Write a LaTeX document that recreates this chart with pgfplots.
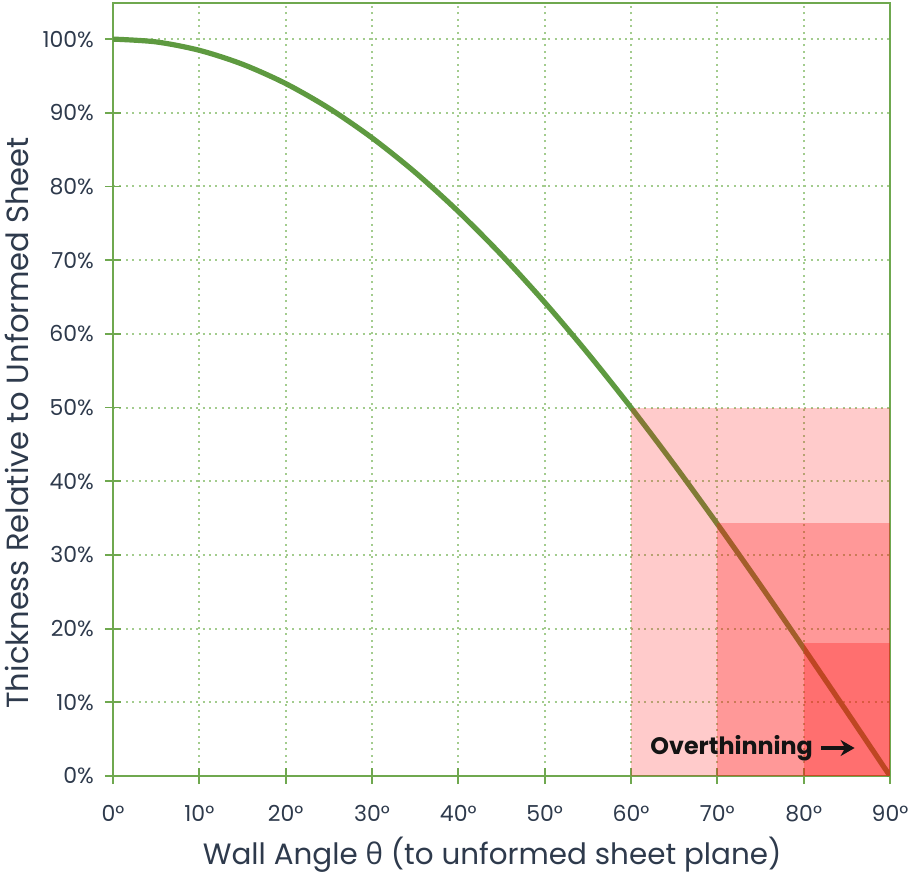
\documentclass[border=0pt]{standalone}
\usepackage{pgfplots}
\pgfplotsset{compat=1.18}
\usepackage{fontspec}
\setmainfont{Poppins}
\newfontfamily\gfont{Open Sans}
\usetikzlibrary{arrows.meta}
\definecolor{axgreen}{HTML}{6FA84F}
\definecolor{gridgreen}{HTML}{A3CC8E}
\definecolor{curvegreen}{HTML}{5E9A40}
\definecolor{txt}{HTML}{2E3A4C}
\definecolor{ovr}{HTML}{FF1010}
\begin{document}
\begin{tikzpicture}
\begin{axis}[name=ax,
  scale only axis, width=388.5pt, height=386.5pt,
  xmin=0, xmax=90, ymin=0, ymax=104.9,
  xtick={0,10,...,90}, ytick={0,10,...,100},
  xticklabels={0°,10°,20°,30°,40°,50°,60°,70°,80°,90°},
  yticklabels={0\%,10\%,20\%,30\%,40\%,50\%,60\%,70\%,80\%,90\%,100\%},
  /pgf/number format/assume math mode=true,
  tick pos=left,
  axis line style={axgreen, line width=1.1pt},
  tick style={axgreen, line width=0.9pt},
  major tick length=8pt, tick align=center,
  grid=major,
  major grid style={gridgreen, line width=1pt, dash pattern=on 1pt off 2.2pt},
  tick label style={font=\fontsize{11}{13}\selectfont, text=txt},
  xticklabel style={yshift=-7pt},
  yticklabel style={xshift=-2pt},
  label style={font=\fontsize{14.7}{17}\selectfont, text=txt},
  xlabel={Wall Angle {\gfont θ} (to unformed sheet plane)},
  ylabel={Thickness Relative to Unformed Sheet},
  xlabel style={at={(axis description cs:0.488,-0.102)}, anchor=center},
  ylabel style={at={(axis description cs:-0.1236,0.457)}, anchor=center, font=\fontsize{15.3}{17}\selectfont},
]
\addplot[curvegreen, line width=2.6pt, smooth] coordinates {
(0,100) (5,99.62) (10,98.48) (15,96.59) (20,93.97) (25,90.63) (30,86.60)
(35,81.92) (40,76.60) (45,70.71) (50,64.28) (55,57.36) (60,50.00)
(65,42.26) (70,34.20) (75,25.88) (80,17.36) (85,8.72) (90,0)};
\addplot[draw=none, fill=ovr, fill opacity=0.22] coordinates {(60,0) (90,0) (90,50) (60,50)} -- cycle;
\addplot[draw=none, fill=ovr, fill opacity=0.27] coordinates {(70,0) (90,0) (90,34.3) (70,34.3)} -- cycle;
\addplot[draw=none, fill=ovr, fill opacity=0.30] coordinates {(80,0) (90,0) (90,18) (80,18)} -- cycle;
\node[anchor=west, font=\bfseries\fontsize{11.9}{14}\selectfont, text=black!92, inner sep=0pt] at (axis cs:62.2,3.8) {Overthinning};
\draw[-{Stealth[length=7pt,width=8pt]}, line width=2pt, black!92] (axis cs:82.0,3.8) -- (axis cs:85.9,3.8);
\end{axis}
\pgfresetboundingbox
\path[use as bounding box] ([xshift=-56.5pt,yshift=-49pt]ax.south west) rectangle ([xshift=11pt,yshift=1.5pt]ax.north east);
\end{tikzpicture}
\end{document}
